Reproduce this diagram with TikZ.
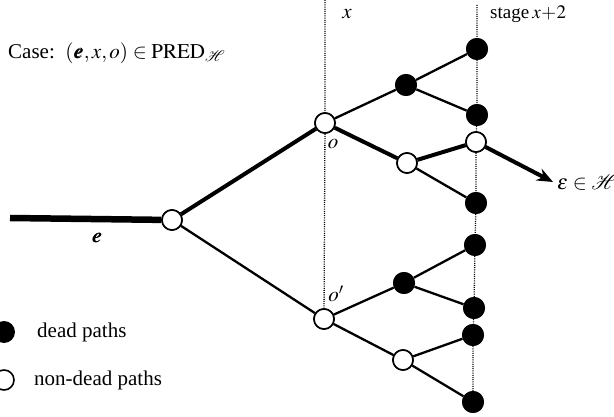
\documentclass[tikz,border=0pt]{standalone}
\usepackage{mathptmx}
\usepackage{bm}
\usepackage[no-math]{fontspec}
\setmainfont{Liberation Serif}
\usetikzlibrary{arrows.meta}
\begin{document}
\begin{tikzpicture}[x=1pt,y=-1pt,
  open/.style={circle,draw,fill=white,line width=1.6pt,minimum size=20pt,inner sep=0pt},
  dead/.style={circle,fill=black,minimum size=22pt,inner sep=0pt},
  thin/.style={line width=2.3pt},
  fat/.style={line width=4pt},
  stageline/.style={dash pattern=on 1pt off 1.2pt,line width=1.3pt},
  lbl/.style={font=\fontsize{21}{24}\selectfont,inner sep=0pt}]
\useasboundingbox (0,0) rectangle (614,417);
% stage lines
\coordinate (xt) at (325,0);
\coordinate (st) at (477,5);
% nodes
\coordinate (e0) at (10,218);
\node[open] (r) at (172,220) {};
\node[open] (o) at (325,123) {};
\node[open] (op) at (324,319) {};
\node[dead] (a) at (406,85) {};
\node[open] (b) at (407,163) {};
\node[dead] (c) at (404,283) {};
\node[open] (d) at (403,360) {};
\node[dead] (l1) at (477,49) {};
\node[dead] (l2) at (477,115) {};
\node[open] (l3) at (476,142) {};
\node[dead] (l4) at (476,203) {};
\node[dead] (l5) at (475,245) {};
\node[dead] (l6) at (474,308) {};
\node[dead] (l7) at (473,335) {};
\node[dead] (l8) at (473,402) {};
\coordinate (tip) at (553,182);
% dotted stage lines
\draw[stageline] (xt) -- (o) -- (op);
\draw[stageline] (st) -- (l1) -- (l2) -- (l3) -- (l4) -- (l5) -- (l6) -- (l7) -- (l8);
% edges
\draw[line width=6.5pt] (e0) -- (r);
\draw[fat] (r) -- (o);
\draw[thin] (r) -- (op);
\draw[thin] (o) -- (a);
\draw[fat] (o) -- (b);
\draw[thin] (a) -- (l1);
\draw[thin] (a) -- (l2);
\draw[fat] (b) -- (l3);
\draw[thin] (b) -- (l4);
\draw[thin] (op) -- (c);
\draw[thin] (op) -- (d);
\draw[thin] (c) -- (l5);
\draw[thin] (c) -- (l6);
\draw[thin] (d) -- (l7);
\draw[thin] (d) -- (l8);
\draw[fat,-{Stealth[length=16pt,width=13pt]}] (l3) -- (tip);
% redraw nodes on top
\foreach \p/\s in {{172,220}/open,{325,123}/open,{324,319}/open,{407,163}/open,{403,360}/open,{476,142}/open,
  {406,85}/dead,{404,283}/dead,{477,49}/dead,{477,115}/dead,{476,203}/dead,{475,245}/dead,{474,308}/dead,{473,335}/dead,{473,402}/dead}
  \node[\s] at (\p) {};
% labels
\node[lbl,anchor=west] (case) at (8,53) {Case:\ \ $(\bm{e},x,o)\in\mathrm{PRED}_{\mathcal{H}}$};
\node[lbl] (lx) at (347,14) {$x$};
\node[lbl,anchor=west,font=\fontsize{19}{22}\selectfont] (ls) at (490,14) {stage\,$x\!+\!2$};
\node[lbl] (lo) at (333,144) {$o$};
\node[lbl] (lop) at (336,294) {$o'$};
\node[lbl] (le) at (97,238) {$\bm{e}$};
\node[lbl,anchor=west] (leps) at (557,183) {$\varepsilon\in\mathcal{H}$};
% legend
\node[dead] (k1) at (4,332) {};
\node[lbl,anchor=west] (t1) at (37,332) {dead paths};
\node[open] (k2) at (4,380) {};
\node[lbl,anchor=west] (t2) at (34,380) {non-dead paths};
\end{tikzpicture}
\end{document}
